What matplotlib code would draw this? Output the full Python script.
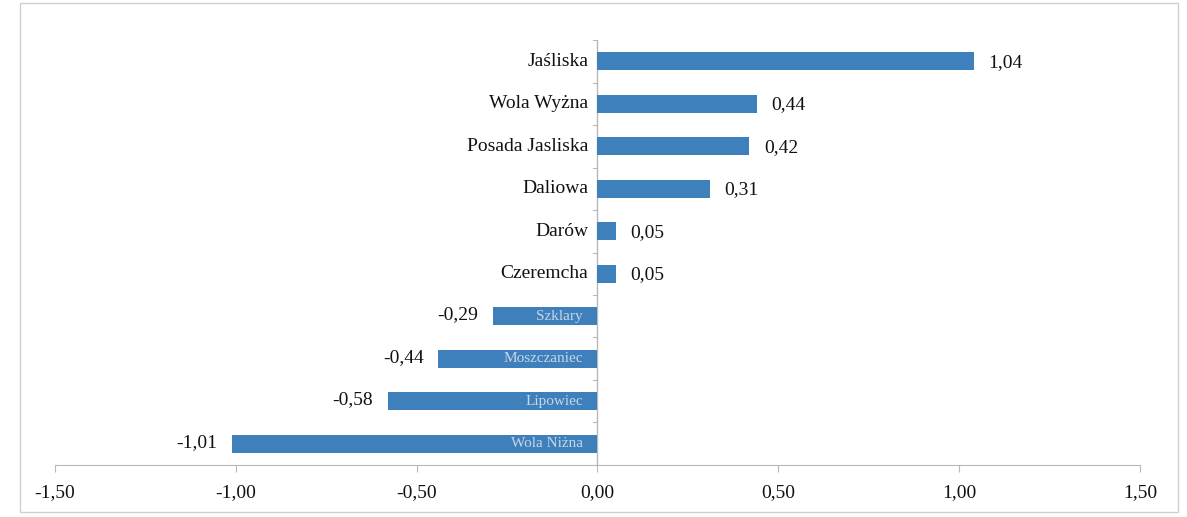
import matplotlib.pyplot as plt
from matplotlib.patches import Rectangle

# Data
places = ['Jaśliska', 'Wola Wyżna', 'Posada Jasliska', 'Daliowa', 'Darów',
          'Czeremcha', 'Szklary', 'Moszczaniec', 'Lipowiec', 'Wola Niżna']
values = [1.04, 0.44, 0.42, 0.31, 0.05, 0.05, -0.29, -0.44, -0.58, -1.01]
xticks = [-1.5, -1.0, -0.5, 0.0, 0.5, 1.0, 1.5]

bar_color = '#3d80bc'
plt.rcParams['font.family'] = ['Liberation Serif', 'DejaVu Serif']
fs = 14

fig = plt.figure(figsize=(11.87, 5.17), dpi=100)
ax = fig.add_axes([0.0463, 0.1006, 0.9141, 0.822])

ypos = list(range(len(places)))
ax.barh(ypos, values, height=0.42, color=bar_color, zorder=2)
ax.set_ylim(len(places) - 0.5, -0.5)
ax.set_xlim(-1.5, 1.5)

# category labels next to the zero line, value labels at the bar ends
for y, name, v in zip(ypos, places, values):
    if v >= 0:
        ax.text(-0.025, y, name, ha='right', va='center', fontsize=fs, color='#111111', zorder=3)
        ax.text(v + 0.04, y + 0.03, f'{v:.2f}'.replace('.', ','), ha='left', va='center',
                fontsize=fs, color='#111111')
    else:
        ax.text(-0.04, y, name, ha='right', va='center', fontsize=11, color='#c9d6e6', zorder=3)
        ax.text(v - 0.04, y - 0.03, f'{v:.2f}'.replace('.', ','), ha='right', va='center',
                fontsize=fs, color='#111111')

# zero line with small ticks between categories
ax.axvline(0, color='#b8b8b8', lw=1, zorder=1)
for b in range(len(places) + 1):
    ax.plot([-0.012, 0], [b - 0.5, b - 0.5], color='#b8b8b8', lw=0.8, zorder=1)

ax.set_xticks(xticks)
ax.set_xticklabels([f'{t:.2f}'.replace('.', ',') for t in xticks], fontsize=fs, color='#111111')
ax.tick_params(axis='x', length=5, color='#b8b8b8', pad=9)
ax.set_yticks([])
for s in ['top', 'right', 'left']:
    ax.spines[s].set_visible(False)
ax.spines['bottom'].set_color('#b8b8b8')

# chart border
fig.patches.append(Rectangle((0.017, 0.01), 0.975, 0.985, transform=fig.transFigure,
                             fill=False, edgecolor='#cfcfcf', lw=1))

fig.savefig('out.png', dpi=100)
